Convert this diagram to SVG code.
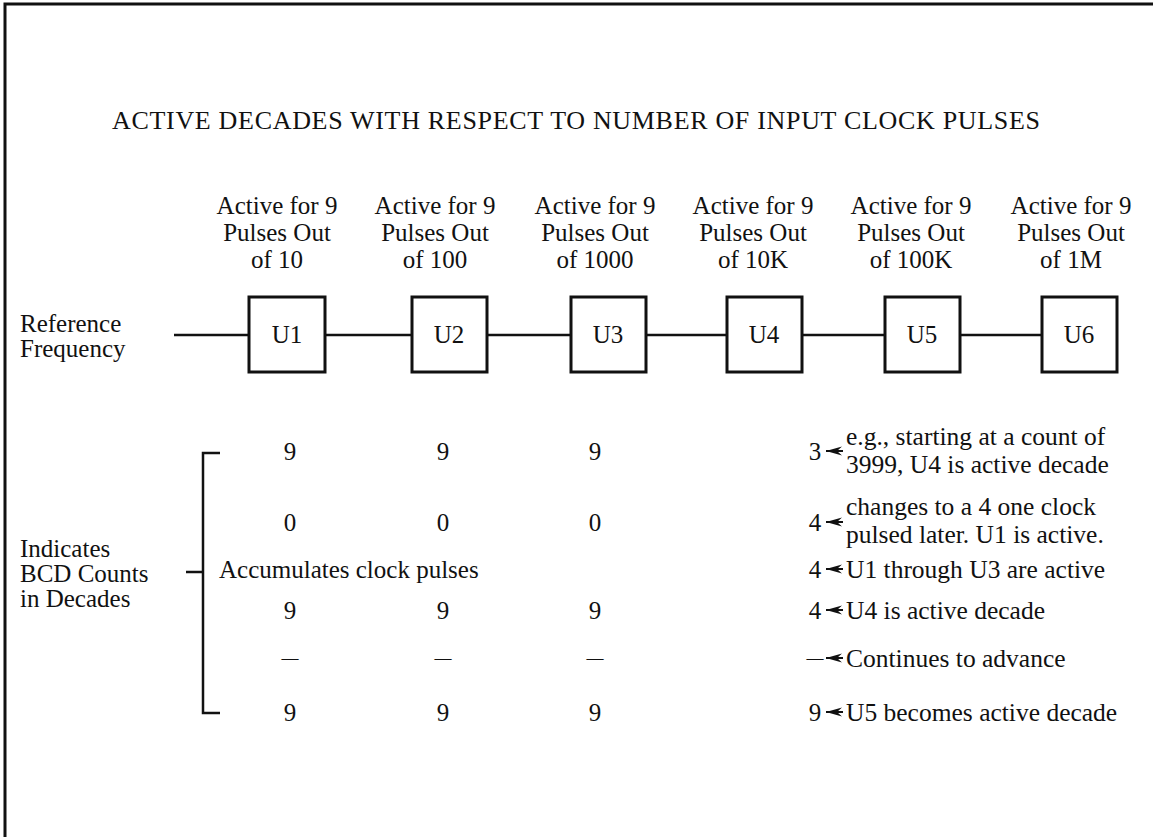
<svg xmlns="http://www.w3.org/2000/svg" width="1153" height="837" viewBox="0 0 1153 837">
<defs>
<style>
text{font-family:"Liberation Serif","Times New Roman",serif;fill:#111;font-size:25px}
.c{text-anchor:middle}
#title{font-size:26px}
#notes text{font-size:25.5px}
.d{font-size:17px}
.box{fill:#fff;stroke:#111;stroke-width:3}
.ln{stroke:#111;stroke-width:2.5;fill:none}
.ar{stroke:#111;stroke-width:2;fill:none}
</style>
<marker id="ah" markerWidth="17" markerHeight="11" refX="16" refY="5.5" orient="auto" markerUnits="userSpaceOnUse">
<path d="M0,1 L16,5.5 L0,10 L5,5.5 z" fill="#111"/>
</marker>
</defs>
<rect width="1153" height="837" fill="#fff"/>
<g id="frame" class="ln"><path d="M5,837 V4 H1153" stroke-width="3"/></g>
<text id="title" x="112" y="129" textLength="928" lengthAdjust="spacing">ACTIVE DECADES WITH RESPECT TO NUMBER OF INPUT CLOCK PULSES</text>
<g id="headers" class="c">
<text x="277" y="214">Active for 9</text><text x="277" y="241">Pulses Out</text><text x="277" y="268">of 10</text>
<text x="435" y="214">Active for 9</text><text x="435" y="241">Pulses Out</text><text x="435" y="268">of 100</text>
<text x="595" y="214">Active for 9</text><text x="595" y="241">Pulses Out</text><text x="595" y="268">of 1000</text>
<text x="753" y="214">Active for 9</text><text x="753" y="241">Pulses Out</text><text x="753" y="268">of 10K</text>
<text x="911" y="214">Active for 9</text><text x="911" y="241">Pulses Out</text><text x="911" y="268">of 100K</text>
<text x="1071" y="214">Active for 9</text><text x="1071" y="241">Pulses Out</text><text x="1071" y="268">of 1M</text>
</g>
<g id="refFreq"><text x="20" y="332">Reference</text><text x="20" y="357">Frequency</text></g>
<g id="connectors">
<path class="ln" d="M174,335 H249 M325,335 H412 M487,335 H571 M646,335 H727 M802,335 H885 M960,335 H1042"/>
<path class="ln" d="M220,453 H203 V713 H220 M186,572 H203"/>
<g class="ar" marker-end="url(#ah)">
<line x1="843" y1="451" x2="826" y2="451"/>
<line x1="843" y1="522" x2="826" y2="522"/>
<line x1="843" y1="569" x2="826" y2="569"/>
<line x1="843" y1="610" x2="826" y2="610"/>
<line x1="843" y1="658" x2="826" y2="658"/>
<line x1="843" y1="712" x2="826" y2="712"/>
</g>
</g>
<g id="U1"><rect class="box" x="249" y="297" width="76" height="75"/><text class="c" x="287" y="343">U1</text></g>
<g id="U2"><rect class="box" x="412" y="297" width="75" height="75"/><text class="c" x="449" y="343">U2</text></g>
<g id="U3"><rect class="box" x="571" y="297" width="75" height="75"/><text class="c" x="608" y="343">U3</text></g>
<g id="U4"><rect class="box" x="727" y="297" width="75" height="75"/><text class="c" x="764" y="343">U4</text></g>
<g id="U5"><rect class="box" x="885" y="297" width="75" height="75"/><text class="c" x="922" y="343">U5</text></g>
<g id="U6"><rect class="box" x="1042" y="297" width="75" height="75"/><text class="c" x="1079" y="343">U6</text></g>
<g id="bracketLabel"><text x="20" y="557">Indicates</text><text x="20" y="582">BCD Counts</text><text x="20" y="607">in Decades</text></g>
<g id="counts" class="c">
<text x="290" y="460">9</text><text x="443" y="460">9</text><text x="595" y="460">9</text><text x="815" y="460">3</text>
<text x="290" y="531">0</text><text x="443" y="531">0</text><text x="595" y="531">0</text><text x="815" y="531">4</text>
<text x="815" y="578">4</text>
<text x="290" y="619">9</text><text x="443" y="619">9</text><text x="595" y="619">9</text><text x="815" y="619">4</text>
<text class="d" x="290" y="663">—</text><text class="d" x="443" y="663">—</text><text class="d" x="595" y="663">—</text><text class="d" x="815" y="663">—</text>
<text x="290" y="721">9</text><text x="443" y="721">9</text><text x="595" y="721">9</text><text x="815" y="721">9</text>
</g>
<text id="accum" x="219" y="578">Accumulates clock pulses</text>
<g id="notes">
<text x="846" y="445">e.g., starting at a count of</text>
<text x="846" y="473">3999, U4 is active decade</text>
<text x="846" y="515">changes to a 4 one clock</text>
<text x="846" y="543">pulsed later. U1 is active.</text>
<text x="846" y="578">U1 through U3 are active</text>
<text x="846" y="619">U4 is active decade</text>
<text x="846" y="667">Continues to advance</text>
<text x="846" y="721">U5 becomes active decade</text>
</g>
</svg>
